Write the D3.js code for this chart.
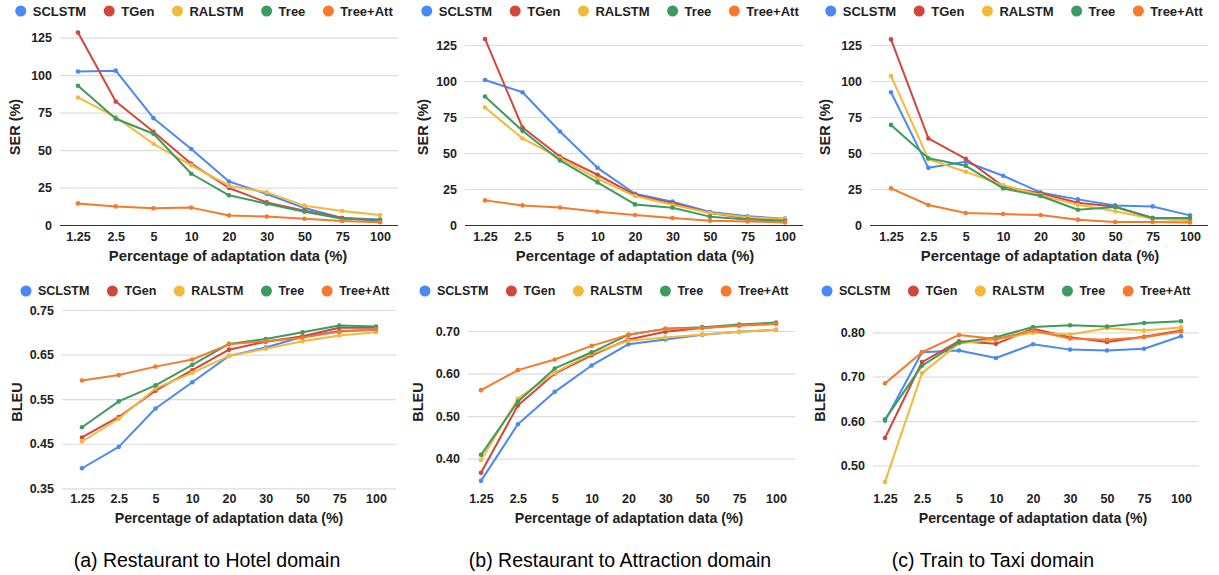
<!DOCTYPE html>
<html>
<head>
<meta charset="utf-8">
<script src="https://cdn.jsdelivr.net/npm/d3@7"></script>
<style>
  body { margin: 0; background: #fff; }
  svg { display: block; font-family: "Liberation Sans", Arial, sans-serif; }
</style>
</head>
<body>
<svg width="1219" height="575"></svg>
<script>
// x categories shared by all six charts
const categories = ["1.25", "2.5", "5", "10", "20", "30", "50", "75", "100"];
const seriesNames = ["SCLSTM", "TGen", "RALSTM", "Tree", "Tree+Att"];
const seriesColors = ["#4a89f3", "#d2473b", "#f2b93b", "#3e9b5e", "#f57a2c"];

// SER (%) -- one row per series, same order as seriesNames
const serHotel = [
  [102.4, 103, 71.3, 50.7, 29, 20.7, 11.3, 4.7, 3.6],
  [128.4, 82.4, 62.2, 40.9, 24.7, 15.1, 9.6, 4.7, 2.9],
  [85.1, 72, 54.2, 39.8, 26.2, 21.8, 12.9, 9.3, 6.7],
  [92.9, 70.9, 60.9, 34.2, 19.8, 14.2, 8.9, 4.2, 3.3],
  [14.4, 12.4, 11.1, 11.6, 6.4, 5.6, 4.2, 2.7, 1.8]
];
const serAttraction = [
  [100.7, 92.2, 64.9, 39.7, 21.7, 16.2, 9, 6, 4.4],
  [129.2, 67.7, 47.6, 34.9, 21, 15.2, 8.3, 4.6, 3],
  [81.6, 60.1, 46.4, 32.1, 20.1, 14.1, 8.3, 5.3, 4.2],
  [89.2, 65.4, 44.8, 29.6, 14.3, 12, 5.8, 3.9, 3],
  [17.1, 13.6, 12.2, 9.2, 6.9, 4.9, 3, 2.5, 1.8]
];
const serTaxi = [
  [92.2, 39.7, 43.9, 34.2, 22.6, 17.8, 13.6, 12.9, 6.7],
  [128.9, 60.1, 46, 26.8, 22, 15.5, 12.7, 4.9, 3.2],
  [103.5, 45.7, 37, 27.7, 20.8, 14.1, 9.5, 4.4, 3.2],
  [69.5, 46.4, 41.1, 25.4, 20.1, 10.6, 12.5, 4.9, 4.9],
  [25.4, 13.9, 8.3, 7.6, 6.9, 3.7, 2.1, 2.1, 1.8]
];

// BLEU
const bleuHotel = [
  [0.395, 0.443, 0.529, 0.588, 0.647, 0.666, 0.690, 0.703, 0.705],
  [0.464, 0.510, 0.569, 0.615, 0.661, 0.679, 0.691, 0.710, 0.710],
  [0.455, 0.506, 0.574, 0.609, 0.647, 0.663, 0.680, 0.693, 0.700],
  [0.487, 0.545, 0.581, 0.627, 0.674, 0.685, 0.700, 0.715, 0.713],
  [0.592, 0.604, 0.623, 0.639, 0.673, 0.680, 0.688, 0.701, 0.707]
];
const bleuAttraction = [
  [0.348, 0.481, 0.557, 0.619, 0.669, 0.680, 0.691, 0.698, 0.703],
  [0.367, 0.525, 0.600, 0.643, 0.680, 0.698, 0.707, 0.713, 0.717],
  [0.397, 0.541, 0.602, 0.647, 0.677, 0.685, 0.692, 0.698, 0.703],
  [0.409, 0.534, 0.612, 0.650, 0.691, 0.705, 0.709, 0.715, 0.720],
  [0.561, 0.608, 0.633, 0.665, 0.691, 0.705, 0.707, 0.713, 0.717]
];
const bleuTaxi = [
  [0.601, 0.755, 0.759, 0.742, 0.773, 0.761, 0.759, 0.763, 0.791],
  [0.562, 0.733, 0.780, 0.774, 0.808, 0.789, 0.778, 0.790, 0.804],
  [0.463, 0.708, 0.775, 0.784, 0.799, 0.795, 0.809, 0.804, 0.811],
  [0.604, 0.725, 0.777, 0.789, 0.812, 0.816, 0.813, 0.821, 0.825],
  [0.685, 0.755, 0.794, 0.785, 0.804, 0.786, 0.783, 0.789, 0.802]
];

const serTicks = [0, 25, 50, 75, 100, 125];
const bleuTicksHotel = [0.35, 0.45, 0.55, 0.65, 0.75];
const bleuTicksAttraction = [0.40, 0.50, 0.60, 0.70];
const bleuTicksTaxi = [0.50, 0.60, 0.70, 0.80];

const captions = ["(a) Restaurant to Hotel domain", "(b) Restaurant to Attraction domain", "(c) Train to Taxi domain"];

const svg = d3.select("svg");

// layout for each small chart
const panels = [
  { values: serHotel, ticks: serTicks, fmt: d3.format("d"), yTitle: "SER (%)",
    x: [78, 380], grid: [60, 398], y: [225, 37.7], base: true, tickY: 237,
    legY: 11, legCx: 204, legSize: 13, yTitleX: 15, yTitleY: 127, xTitleX: 228, xTitleY: 256, xTitleSize: 14.8 },
  { values: serAttraction, ticks: serTicks, fmt: d3.format("d"), yTitle: "SER (%)",
    x: [485, 785], grid: [465, 803], y: [225, 45], base: true, tickY: 237,
    legY: 11, legCx: 610, legSize: 13, yTitleX: 423, yTitleY: 127, xTitleX: 635, xTitleY: 256, xTitleSize: 14.8 },
  { values: serTaxi, ticks: serTicks, fmt: d3.format("d"), yTitle: "SER (%)",
    x: [891, 1190], grid: [870, 1208], y: [225, 45], base: true, tickY: 237,
    legY: 11, legCx: 1014, legSize: 13, yTitleX: 825, yTitleY: 127, xTitleX: 1040, xTitleY: 256, xTitleSize: 14.8 },
  { values: bleuHotel, ticks: bleuTicksHotel, fmt: d3.format(".2f"), yTitle: "BLEU",
    x: [82, 376], grid: [62, 396], y: [488.3, 310], base: false, tickY: 499,
    legY: 291, legCx: 205, legSize: 12.5, yTitleX: 17, yTitleY: 402, xTitleX: 229, xTitleY: 518, xTitleSize: 14.2 },
  { values: bleuAttraction, ticks: bleuTicksAttraction, fmt: d3.format(".2f"), yTitle: "BLEU",
    x: [481, 776], grid: [468, 795], y: [458.7, 331], base: false, tickY: 499,
    legY: 291, legCx: 604, legSize: 12.5, yTitleX: 418, yTitleY: 402, xTitleX: 629, xTitleY: 518, xTitleSize: 14.2 },
  { values: bleuTaxi, ticks: bleuTicksTaxi, fmt: d3.format(".2f"), yTitle: "BLEU",
    x: [885, 1181], grid: [873, 1199], y: [465.5, 332.3], base: false, tickY: 499,
    legY: 291, legCx: 1006, legSize: 12.5, yTitleX: 820, yTitleY: 402, xTitleX: 1033, xTitleY: 518, xTitleSize: 14.2 }
];

panels.forEach((p) => {
  const g = svg.append("g");

  const xScale = d3.scalePoint().domain(categories).range(p.x);
  const yScale = d3.scaleLinear()
    .domain([p.ticks[0], p.ticks[p.ticks.length - 1]])
    .range(p.y);

  // gridlines + y labels
  const yAxis = g.append("g")
    .attr("transform", `translate(${p.grid[0]},0)`)
    .call(d3.axisLeft(yScale).tickValues(p.ticks).tickFormat(p.fmt)
      .tickSize(-(p.grid[1] - p.grid[0])).tickPadding(8));
  yAxis.select(".domain").remove();
  yAxis.selectAll(".tick line").attr("stroke", "#dcdcdc").attr("stroke-width", 1.2);
  yAxis.selectAll("text").attr("fill", "#222").attr("font-size", 12.5).attr("font-weight", "bold");
  if (p.base) {
    yAxis.selectAll(".tick").filter((d) => d === 0).select("line").attr("stroke", "#333");
  }

  // x labels
  const xAxis = g.append("g")
    .attr("transform", `translate(0,${p.tickY})`)
    .call(d3.axisBottom(xScale).tickSize(0).tickPadding(0));
  xAxis.select(".domain").remove();
  xAxis.selectAll("text").attr("y", 0).attr("dy", "0.35em")
    .attr("fill", "#222").attr("font-size", 12.5).attr("font-weight", "bold");

  // lines
  const line = d3.line().x((d, i) => xScale(categories[i])).y((d) => yScale(d));
  p.values.forEach((vals, s) => {
    g.append("path")
      .datum(vals)
      .attr("d", line)
      .attr("fill", "none")
      .attr("stroke", seriesColors[s])
      .attr("stroke-width", 2)
      .attr("stroke-linejoin", "round");
    g.selectAll(null)
      .data(vals)
      .join("circle")
      .attr("cx", (d, i) => xScale(categories[i]))
      .attr("cy", (d) => yScale(d))
      .attr("r", 2.3)
      .attr("fill", seriesColors[s]);
  });

  // axis titles
  g.append("text")
    .attr("transform", `translate(${p.yTitleX},${p.yTitleY}) rotate(-90)`)
    .attr("text-anchor", "middle")
    .attr("dy", "0.35em")
    .attr("font-size", 14.5)
    .attr("font-weight", "bold")
    .attr("fill", "#222")
    .text(p.yTitle);
  g.append("text")
    .attr("x", p.xTitleX)
    .attr("y", p.xTitleY)
    .attr("text-anchor", "middle")
    .attr("dy", "0.35em")
    .attr("font-size", p.xTitleSize)
    .attr("font-weight", "bold")
    .attr("fill", "#222")
    .text("Percentage of adaptation data (%)");

  // legend, centred on legCx
  const leg = g.append("g");
  const items = leg.selectAll("g").data(seriesNames).join("g");
  items.append("circle").attr("r", 5.5).attr("fill", (d, i) => seriesColors[i]);
  items.append("text")
    .attr("x", 12)
    .attr("dy", "0.35em")
    .attr("font-size", p.legSize)
    .attr("font-weight", "bold")
    .attr("fill", "#222")
    .text((d) => d);
  let cx = 0;
  const pos = [];
  items.each(function () {
    pos.push(cx);
    const w = d3.select(this).select("text").node().getComputedTextLength();
    cx += 12 + w + 23;
  });
  const total = cx - 23 + 5.5;
  const start = p.legCx - total / 2 + 5.5;
  items.attr("transform", (d, i) => `translate(${start + pos[i]},${p.legY})`);
});

// captions under each column
svg.selectAll(".caption")
  .data(captions)
  .join("text")
  .attr("class", "caption")
  .attr("x", (d, i) => [207, 620, 993][i])
  .attr("y", 560)
  .attr("dy", "0.35em")
  .attr("text-anchor", "middle")
  .attr("font-size", 19.5)
  .attr("fill", "#000")
  .text((d) => d);
</script>
</body>
</html>
